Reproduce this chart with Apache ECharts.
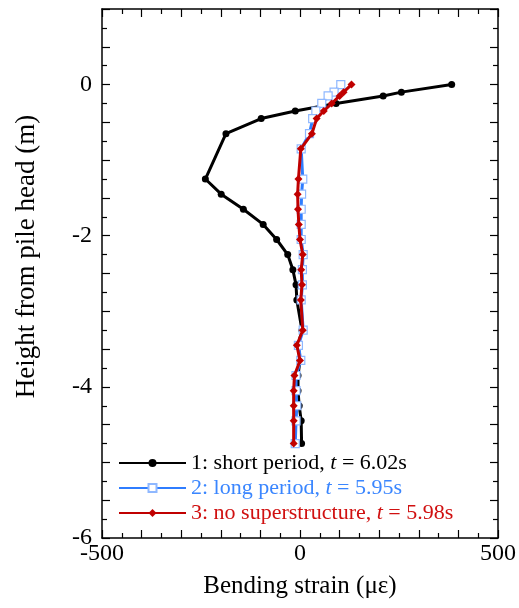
<!DOCTYPE html>
<html>
<head>
<meta charset="utf-8">
<script src="https://cdn.jsdelivr.net/npm/echarts@6/dist/echarts.min.js"></script>
<style>
  html, body { margin: 0; padding: 0; background: #fff; }
  #main { width: 519px; height: 608px; }
</style>
</head>
<body>
<div id="main"></div>
<script>
// 数据 -- 读自原图
var seriesNames = ['1: short period, t = 6.02s', '2: long period, t = 5.95s', '3: no superstructure, t = 5.98s'];

var depthShort = [0, -0.1, -0.15, -0.25, -0.35, -0.45, -0.65, -1.25, -1.45, -1.65, -1.85, -2.05, -2.25, -2.45, -2.65, -2.85, -3.25, -3.45, -3.65, -3.85, -4.05, -4.25, -4.45, -4.75];
var strainShort = [383, 256, 210, 91, -12, -98, -187, -239, -199, -143, -93, -59, -31, -18, -10, -8, 5, -5, 0, -5, -5, -2, 3, 4];

var depthLong = [0, -0.1, -0.15, -0.25, -0.35, -0.45, -0.65, -0.85, -1.25, -1.45, -1.65, -1.85, -2.05, -2.25, -2.45, -2.65, -2.85, -3.25, -3.45, -3.65, -3.85, -4.05, -4.25, -4.45, -4.75];
var strainLong = [103, 86, 71, 55, 40, 32, 24, 3, 7, 4, 3, 3, 3, 8, 6, 6, 3, 8, -4, 2, -10, -10, -8, -10, -12];

var depthNone = [0, -0.1, -0.15, -0.25, -0.35, -0.45, -0.65, -0.85, -1.25, -1.45, -1.65, -1.85, -2.05, -2.25, -2.45, -2.65, -2.85, -3.25, -3.45, -3.65, -3.85, -4.05, -4.25, -4.45, -4.75];
var strainNone = [130, 110, 100, 80, 60, 42, 30, 2, -4, -6, -5, -3, 0, 7, 3, 5, 2, 7, -8, 0, -14, -16, -16, -16, -16];

var xTickLabels = [-500, 0, 500];
var yTickLabels = [0, -2, -4, -6];

var colors = ['#000000', '#2f7dff', '#c00000'];
var textColors = ['#000000', '#3a86ff', '#d01010'];
var serif = "'Liberation Serif', 'Times New Roman', serif";

function pairs(xs, ys) {
  return xs.map(function (x, i) { return [x, ys[i]]; });
}

function inList(list, v) {
  return list.some(function (t) { return Math.abs(t - v) < 1e-6; });
}

var myChart = echarts.init(document.getElementById('main'), null, { renderer: 'canvas' });

// 坐标轴公共样式
var frameLine = { show: true, onZero: false, lineStyle: { color: '#000', width: 1.5 } };
var tick = { show: true, inside: true, length: 8, lineStyle: { color: '#000', width: 1.2 } };
var minor = { show: true, splitNumber: 2, length: 5, lineStyle: { color: '#000', width: 1.2 } };

var rich = {};
textColors.forEach(function (c, i) {
  rich['k' + i] = { color: c, fontSize: 22, fontFamily: serif };
  rich['i' + i] = { color: c, fontSize: 22, fontFamily: serif, fontStyle: 'italic' };
});

var option = {
  animation: false,
  grid: { left: 102, right: 21, top: 9, bottom: 70 },
  legend: {
    orient: 'vertical',
    left: 113,
    top: 447,
    itemWidth: 67,
    itemHeight: 10,
    itemGap: 3,
    data: seriesNames,
    textStyle: { fontSize: 22, fontFamily: serif, rich: rich },
    formatter: function (name) {
      var i = seriesNames.indexOf(name);
      var parts = name.split(' t = ');
      return '{k' + i + '|' + parts[0] + ' }{i' + i + '|t}{k' + i + '| = ' + parts[1] + '}';
    }
  },
  xAxis: [
    {
      type: 'value', min: -500, max: 500, interval: 100, position: 'bottom',
      name: 'Bending strain (με)', nameLocation: 'middle', nameGap: 36,
      nameTextStyle: { fontSize: 25, fontFamily: serif, color: '#000' },
      axisLine: frameLine, axisTick: tick, minorTick: minor,
      splitLine: { show: false },
      axisLabel: {
        fontSize: 24, fontFamily: serif, color: '#000', margin: 4,
        formatter: function (v) { return inList(xTickLabels, v) ? String(v) : ''; }
      }
    },
    {
      type: 'value', min: -500, max: 500, interval: 100, position: 'top',
      axisLine: frameLine, axisTick: tick, minorTick: minor,
      splitLine: { show: false }, axisLabel: { show: false }
    }
  ],
  yAxis: [
    {
      type: 'value', min: -6, max: 1, interval: 0.5, position: 'left',
      name: 'Height from pile head (m)', nameLocation: 'middle', nameGap: 62,
      nameTextStyle: { fontSize: 27, fontFamily: serif, color: '#000', padding: [0, 0, 0, 34] },
      axisLine: frameLine, axisTick: tick, minorTick: minor,
      splitLine: { show: false },
      axisLabel: {
        fontSize: 24, fontFamily: serif, color: '#000', margin: 10,
        formatter: function (v) { return inList(yTickLabels, v) ? String(v) : ''; }
      }
    },
    {
      type: 'value', min: -6, max: 1, interval: 0.5, position: 'right',
      axisLine: frameLine, axisTick: tick, minorTick: minor,
      splitLine: { show: false }, axisLabel: { show: false }
    }
  ],
  series: [
    {
      name: seriesNames[0], type: 'line',
      data: pairs(strainShort, depthShort),
      symbol: 'circle', symbolSize: 7,
      lineStyle: { color: colors[0], width: 3 },
      itemStyle: { color: colors[0] },
      z: 2
    },
    {
      name: seriesNames[1], type: 'line',
      data: pairs(strainLong, depthLong),
      symbol: 'rect', symbolSize: 8,
      lineStyle: { color: colors[1], width: 3 },
      itemStyle: { color: '#ffffff', borderColor: '#8fb8ff', borderWidth: 1.2 },
      z: 3
    },
    {
      name: seriesNames[2], type: 'line',
      data: pairs(strainNone, depthNone),
      symbol: 'diamond', symbolSize: 8,
      lineStyle: { color: colors[2], width: 3 },
      itemStyle: { color: colors[2] },
      z: 4
    }
  ]
};

myChart.setOption(option);
window.addEventListener('resize', function () { myChart.resize(); });
</script>
</body>
</html>
